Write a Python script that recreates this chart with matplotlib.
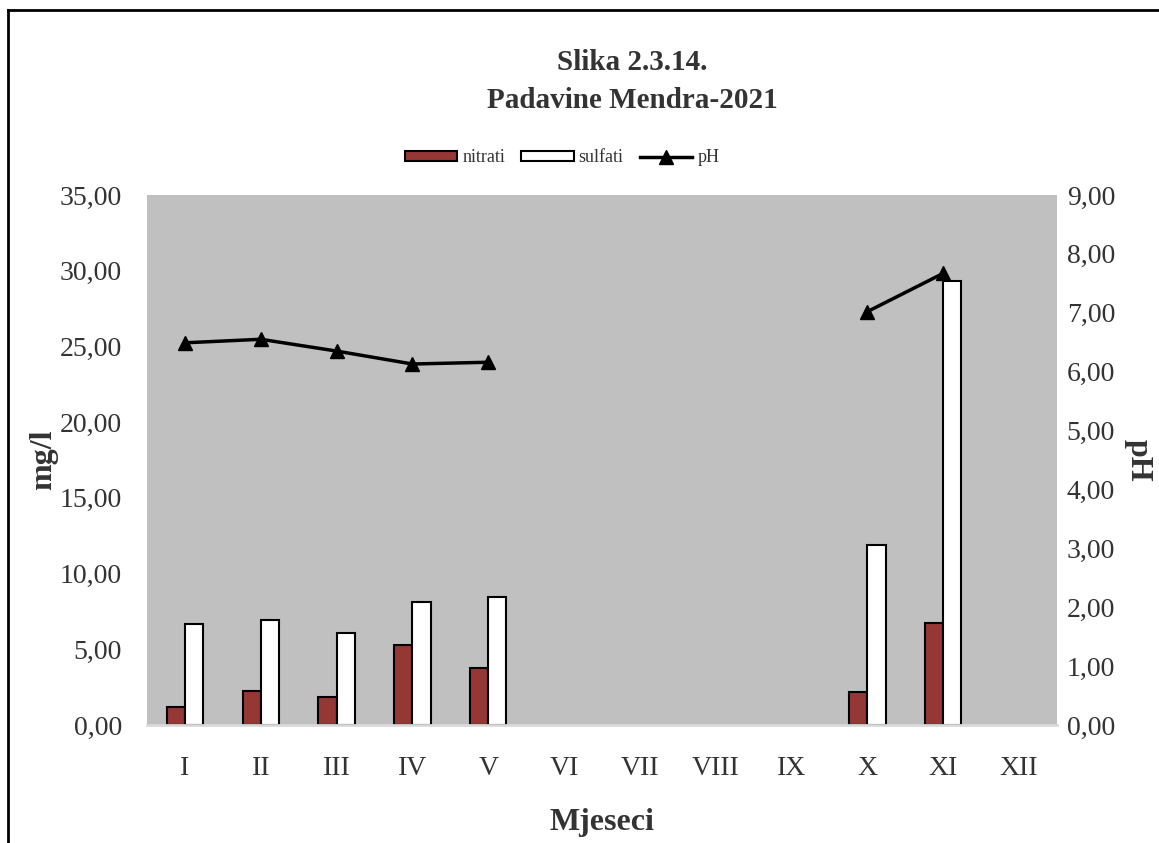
import numpy as np
import matplotlib
matplotlib.use("Agg")
import matplotlib.pyplot as plt
from matplotlib.lines import Line2D

plt.rcParams['font.family'] = ['Liberation Serif', 'DejaVu Serif']

months = ["I", "II", "III", "IV", "V", "VI", "VII", "VIII", "IX", "X", "XI", "XII"]
nitrati = [1.21, 2.25, 1.87, 5.30, 3.76, np.nan, np.nan, np.nan, np.nan, 2.20, 6.72, np.nan]
sulfati = [6.67, 6.93, 6.08, 8.12, 8.45, np.nan, np.nan, np.nan, np.nan, 11.87, 29.35, np.nan]
ph = [6.49, 6.55, 6.35, 6.13, 6.16, np.nan, np.nan, np.nan, np.nan, 7.02, 7.67, np.nan]
left_ticks = [0, 5, 10, 15, 20, 25, 30, 35]
right_ticks = [0, 1, 2, 3, 4, 5, 6, 7, 8, 9]

txt = '#333333'
fig = plt.figure(figsize=(11.59, 8.43), dpi=100)
ax = fig.add_axes([147/1159, 1-725/843, 910/1159, 530/843])
ax.set_facecolor('#c0c0c0')
x = np.arange(len(months))
w = 0.24
ax.bar(x - w/2, nitrati, w, color='#953735', edgecolor='black', linewidth=1.5, label='nitrati', zorder=2)
ax.bar(x + w/2, sulfati, w, color='white', edgecolor='black', linewidth=1.5, label='sulfati', zorder=2)
ax.set_xlim(-0.5, 11.5)
ax.set_ylim(0, 35)
ax.set_yticks(left_ticks)
ax.set_yticklabels([f"{v:.2f}".replace('.', ',') for v in left_ticks])
ax.set_xticks(x)
ax.set_xticklabels(months)
ax.tick_params(axis='both', length=0, labelsize=20, labelcolor=txt)
ax.tick_params(axis='y', pad=18)
ax.tick_params(axis='x', pad=22)
for s in ['top', 'left', 'right']:
    ax.spines[s].set_visible(False)
ax.spines['bottom'].set_color('#d9d9d9')
ax.spines['bottom'].set_linewidth(2)

ax2 = ax.twinx()
ax2.plot(x, ph, color='black', linewidth=2.5, marker='^', markersize=10, label='pH', zorder=3)
ax2.set_ylim(0, 9)
ax2.set_yticks(right_ticks)
ax2.set_yticklabels([f"{v:.2f}".replace('.', ',') for v in right_ticks])
ax2.tick_params(axis='y', length=0, labelsize=20, labelcolor=txt, pad=7)
for s in ['top', 'left', 'right', 'bottom']:
    ax2.spines[s].set_visible(False)

ax.set_ylabel('mg/l', fontsize=23, fontweight='bold', color=txt, labelpad=1)
ax2.set_ylabel('pH', fontsize=23, fontweight='bold', color=txt, rotation=-90, va='bottom', labelpad=6)
ax.set_xlabel('Mjeseci', fontsize=23, fontweight='bold', color=txt, labelpad=20)

fig.text(632/1159, 1-63/843, 'Slika 2.3.14.', ha='center', va='center', fontsize=21, fontweight='bold', color=txt)
fig.text(632/1159, 1-101/843, 'Padavine Mendra-2021', ha='center', va='center', fontsize=21, fontweight='bold', color=txt)

h1, l1 = ax.get_legend_handles_labels()
h2, l2 = ax2.get_legend_handles_labels()
fig.legend(h1 + h2, l1 + l2, loc='center', bbox_to_anchor=(562/1159, 1-158/843), ncol=3, frameon=False,
           fontsize=13, handlelength=2.9, handleheight=0.5, columnspacing=0.9, handletextpad=0.28,
           labelcolor=txt)

fig.add_artist(Line2D([8/1159, 8/1159], [0, 1-10/843], color='black', linewidth=2, transform=fig.transFigure))
fig.add_artist(Line2D([8/1159, 1], [1-10/843, 1-10/843], color='black', linewidth=2, transform=fig.transFigure))

fig.savefig('out.png', dpi=100)
